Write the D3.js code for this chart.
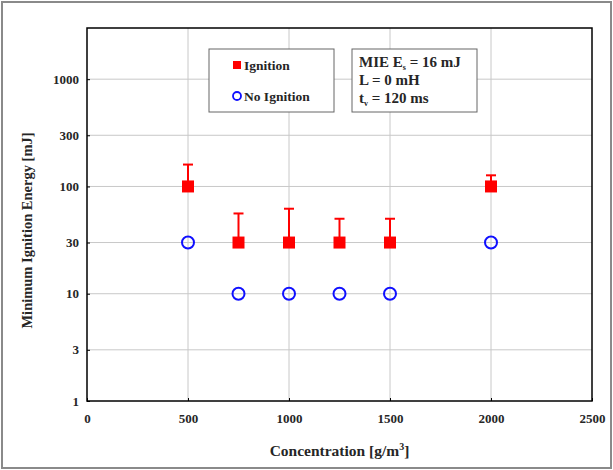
<!DOCTYPE html>
<html>
<head>
<meta charset="utf-8">
<script src="https://cdn.jsdelivr.net/npm/d3@7"></script>
<style>
  body { margin: 0; background: #fff; }
  svg text { font-family: "Liberation Serif", "Times New Roman", serif; font-weight: bold; fill: #262626; }
</style>
</head>
<body>
<svg width="613" height="470"></svg>
<script>
// data
const concentrations = [500, 750, 1000, 1250, 1500, 2000];
const ignitionEnergy = [100, 30, 30, 30, 30, 100];
const ignitionUpper = [160, 56, 62, 50, 50, 127];
const noIgnitionEnergy = [30, 10, 10, 10, 10, 30];
const xTicks = [0, 500, 1000, 1500, 2000, 2500];
const yTicks = [1, 3, 10, 30, 100, 300, 1000];

const svg = d3.select("svg");
const width = +svg.attr("width");
const height = +svg.attr("height");

const margin = { top: 28, right: 21, bottom: 69, left: 87 };
const innerWidth = width - margin.left - margin.right;
const innerHeight = height - margin.top - margin.bottom;

// outer frame
svg.append("rect")
  .attr("x", 2).attr("y", 2)
  .attr("width", width - 4).attr("height", height - 4)
  .attr("fill", "none").attr("stroke", "#8a8a8a").attr("stroke-width", 2);

const xScale = d3.scaleLinear().domain([0, 2500]).range([0, innerWidth]);
const yScale = d3.scaleLog().domain([1, 3000]).range([innerHeight, 0]);

const g = svg.append("g")
  .attr("transform", `translate(${margin.left},${margin.top})`);

// grid
g.selectAll(".vgrid")
  .data(xTicks.slice(1, -1))
  .enter().append("line")
  .attr("x1", d => xScale(d)).attr("x2", d => xScale(d))
  .attr("y1", 0).attr("y2", innerHeight)
  .attr("stroke", "#c8c8c8").attr("stroke-width", 1);

g.selectAll(".hgrid")
  .data(yTicks.slice(1))
  .enter().append("line")
  .attr("x1", 0).attr("x2", innerWidth)
  .attr("y1", d => yScale(d)).attr("y2", d => yScale(d))
  .attr("stroke", "#c8c8c8").attr("stroke-width", 1);

// axes
const xAxis = d3.axisBottom(xScale).tickValues(xTicks).tickSize(-3).tickPadding(13).tickFormat(d3.format("d"));
const yAxis = d3.axisLeft(yScale).tickValues(yTicks).tickSize(-3).tickPadding(8).tickFormat(d3.format("d"));

const xAxisG = g.append("g").attr("transform", `translate(0,${innerHeight})`).call(xAxis);
const yAxisG = g.append("g").call(yAxis);
[xAxisG, yAxisG].forEach(a => {
  a.attr("font-family", null).attr("font-size", null);
  a.select(".domain").remove();
  a.selectAll("text").style("font-size", "13px");
  a.selectAll(".tick line").attr("stroke", "#000");
});

// plot border
g.append("rect")
  .attr("width", innerWidth).attr("height", innerHeight)
  .attr("fill", "none").attr("stroke", "#000").attr("stroke-width", 1.5);

// axis labels
g.append("text")
  .attr("x", innerWidth / 2).attr("y", innerHeight + 55)
  .attr("text-anchor", "middle")
  .style("font-size", "15.5px")
  .html('Concentration [g/m<tspan dy="-6" font-size="10px">3</tspan><tspan dy="6">]</tspan>');

g.append("text")
  .attr("transform", `translate(${-55},${innerHeight / 2 + 16}) rotate(-90)`)
  .attr("text-anchor", "middle")
  .style("font-size", "14.5px")
  .text("Minimum Ignition Energy [mJ]");

// error bars
const ignition = concentrations.map((c, i) => ({ c, v: ignitionEnergy[i], up: ignitionUpper[i] }));
const noIgnition = concentrations.map((c, i) => ({ c, v: noIgnitionEnergy[i] }));

g.selectAll(".err")
  .data(ignition)
  .enter().append("line")
  .attr("x1", d => xScale(d.c)).attr("x2", d => xScale(d.c))
  .attr("y1", d => yScale(d.v)).attr("y2", d => yScale(d.up))
  .attr("stroke", "red").attr("stroke-width", 2);

g.selectAll(".cap")
  .data(ignition)
  .enter().append("line")
  .attr("x1", d => xScale(d.c) - 5).attr("x2", d => xScale(d.c) + 5)
  .attr("y1", d => yScale(d.up)).attr("y2", d => yScale(d.up))
  .attr("stroke", "red").attr("stroke-width", 2);

const sq = 12;
g.selectAll(".ign")
  .data(ignition)
  .enter().append("rect")
  .attr("x", d => xScale(d.c) - sq / 2).attr("y", d => yScale(d.v) - sq / 2)
  .attr("width", sq).attr("height", sq)
  .attr("fill", "red");

g.selectAll(".noign")
  .data(noIgnition)
  .enter().append("circle")
  .attr("cx", d => xScale(d.c)).attr("cy", d => yScale(d.v))
  .attr("r", 6)
  .attr("fill", "none").attr("stroke", "#1010ff").attr("stroke-width", 2);

// legend
const legend = svg.append("g").attr("transform", "translate(209,49)");
legend.append("rect")
  .attr("width", 125).attr("height", 63)
  .attr("fill", "#fff").attr("stroke", "#666").attr("stroke-width", 1);
legend.append("rect")
  .attr("x", 24).attr("y", 12).attr("width", 8).attr("height", 8).attr("fill", "red");
legend.append("text").attr("x", 35).attr("y", 20.5).style("font-size", "13.5px").text("Ignition");
legend.append("circle")
  .attr("cx", 28).attr("cy", 47).attr("r", 4)
  .attr("fill", "none").attr("stroke", "#1010ff").attr("stroke-width", 1.8);
legend.append("text").attr("x", 35).attr("y", 51.5).style("font-size", "13.5px").text("No Ignition");

// info box
const info = svg.append("g").attr("transform", "translate(352,49)");
info.append("rect")
  .attr("width", 125).attr("height", 63)
  .attr("fill", "#fff").attr("stroke", "#666").attr("stroke-width", 1);
info.append("text").attr("x", 7).attr("y", 18).style("font-size", "15px")
  .html('MIE E<tspan dy="3" font-size="8px">s</tspan><tspan dy="-3"> = 16 mJ</tspan>');
info.append("text").attr("x", 7).attr("y", 36).style("font-size", "15px").text("L = 0 mH");
info.append("text").attr("x", 7).attr("y", 53.5).style("font-size", "15px")
  .html('t<tspan dy="3" font-size="8px">v</tspan><tspan dy="-3"> = 120 ms</tspan>');
</script>
</body>
</html>
